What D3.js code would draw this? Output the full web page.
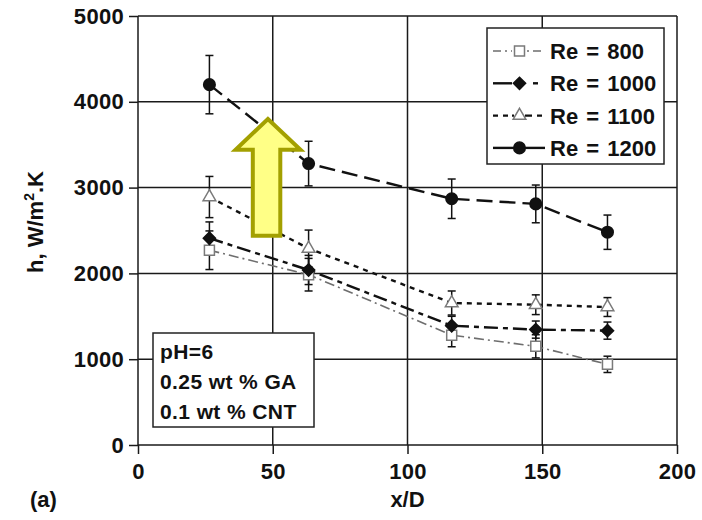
<!DOCTYPE html>
<html>
<head>
<meta charset="utf-8">
<script src="https://cdn.jsdelivr.net/npm/d3@7"></script>
<style>
  html, body { margin: 0; padding: 0; background: #fff; }
  svg { display: block; }
  text { font-family: "Liberation Sans", Arial, sans-serif; font-weight: bold; fill: #111; }
</style>
</head>
<body>
<svg id="chart" width="702" height="520"></svg>
<script>
// Axial position along the tube (x/D)
const xD = [26.5, 63.3, 116.4, 147.6, 174.2];

// Heat transfer coefficient h (W/m².K) and its error half-range for each Reynolds number
const re800  = [2270, 1985, 1280, 1150, 940];
const err800 = [225, 190, 135, 135, 95];
const re1000  = [2410, 2040, 1390, 1345, 1333];
const err1000 = [190, 170, 110, 100, 100];
const re1100  = [2890, 2290, 1655, 1635, 1608];
const err1100 = [240, 215, 140, 115, 110];
const re1200  = [4200, 3280, 2870, 2810, 2480];
const err1200 = [340, 260, 230, 220, 200];

const seriesNames = ["Re = 800", "Re = 1000", "Re = 1100", "Re = 1200"];
const xTicks = [0, 50, 100, 150, 200];
const yTicks = [0, 1000, 2000, 3000, 4000, 5000];
const noteLines = ["pH=6", "0.25 wt % GA", "0.1 wt % CNT"];

// Upward arrow outline, in data units (x/D, h)
const arrowX = [48.2, 60.3, 52.8, 52.8, 42.6, 42.6, 36.2];
const arrowY = [3800, 3440, 3440, 2440, 2440, 3440, 3440];

const svg = d3.select("#chart");
const W = 702, H = 520;
const m = { left: 138, right: 25, top: 16, bottom: 75 };

const x = d3.scaleLinear().domain([0, 200]).range([m.left, W - m.right]);
const y = d3.scaleLinear().domain([0, 5000]).range([H - m.bottom, m.top]);

// Grid
const grid = svg.append("g").attr("stroke", "#1a1a1a").attr("stroke-width", 1.5);
grid.selectAll(".gx").data([50, 100, 150]).join("line")
  .attr("x1", d => x(d)).attr("x2", d => x(d))
  .attr("y1", y(0)).attr("y2", y(5000));
grid.selectAll(".gy").data([1000, 2000, 3000, 4000]).join("line")
  .attr("x1", x(0)).attr("x2", x(200))
  .attr("y1", d => y(d)).attr("y2", d => y(d));
// frame top & right
grid.append("line").attr("x1", x(0)).attr("x2", x(200)).attr("y1", y(5000)).attr("y2", y(5000));
grid.append("line").attr("x1", x(200)).attr("x2", x(200)).attr("y1", y(0)).attr("y2", y(5000));

// Axes
const xAxis = svg.append("g").attr("transform", `translate(0,${y(0)})`)
  .call(d3.axisBottom(x).tickValues(xTicks).tickSize(9).tickPadding(9).tickFormat(d3.format("d")));
const yAxis = svg.append("g").attr("transform", `translate(${x(0)},0)`)
  .call(d3.axisLeft(y).tickValues(yTicks).tickSize(9).tickPadding(5).tickFormat(d3.format("d")));
[xAxis, yAxis].forEach(a => {
  a.selectAll("path, line").attr("stroke", "#1a1a1a").attr("stroke-width", 1.5);
  a.selectAll("text").attr("font-size", 22).attr("fill", "#111").attr("letter-spacing", 0.3)
    .style("font-family", '"Liberation Sans", Arial, sans-serif').style("font-weight", "bold");
});
yAxis.select(".domain").attr("d", `M0,${y(5000)}V${y(0)}`);
xAxis.select(".domain").attr("d", `M${x(0)},0H${x(200)}`);

// Series styles
const styles = [
  { vals: re800,  errs: err800,  stroke: "#6e6e6e", width: 1.6, dash: "10,4,2,4", sym: d3.symbolSquare,   size: 100, fill: "#fff", mstroke: "#7a7a7a" },
  { vals: re1000, errs: err1000, stroke: "#111",    width: 2.4, dash: "14,5,5,5", sym: d3.symbolDiamond2, size: 95,  fill: "#111", mstroke: "#111" },
  { vals: re1100, errs: err1100, stroke: "#111",    width: 2.4, dash: "5,5",      sym: d3.symbolTriangle, size: 70,  fill: "#fff", mstroke: "#7a7a7a" },
  { vals: re1200, errs: err1200, stroke: "#111",    width: 2.4, dash: "16,7",     sym: d3.symbolCircle,   size: 105, fill: "#111", mstroke: "#111" }
];

const line = d3.line().x(d => x(d[0])).y(d => y(d[1]));
styles.forEach(s => {
  const pts = xD.map((v, i) => [v, s.vals[i], s.errs[i]]);
  svg.append("path").datum(pts).attr("d", line)
    .attr("fill", "none").attr("stroke", s.stroke).attr("stroke-width", s.width)
    .attr("stroke-dasharray", s.dash);
});

// Error bars
styles.forEach(s => {
  const pts = xD.map((v, i) => [v, s.vals[i], s.errs[i]]);
  const g = svg.append("g").attr("stroke", "#111").attr("stroke-width", 1.5);
  g.selectAll(".v").data(pts).join("line")
    .attr("x1", d => x(d[0])).attr("x2", d => x(d[0]))
    .attr("y1", d => y(d[1] - d[2])).attr("y2", d => y(d[1] + d[2]));
  [-1, 1].forEach(sg => {
    g.selectAll(".c" + sg).data(pts).join("line")
      .attr("x1", d => x(d[0]) - 4).attr("x2", d => x(d[0]) + 4)
      .attr("y1", d => y(d[1] + sg * d[2])).attr("y2", d => y(d[1] + sg * d[2]));
  });
});

// Markers
styles.forEach(s => {
  const pts = xD.map((v, i) => [v, s.vals[i]]);
  svg.append("g").selectAll("path").data(pts).join("path")
    .attr("transform", d => `translate(${x(d[0])},${y(d[1])})`)
    .attr("d", d3.symbol().type(s.sym).size(s.size))
    .attr("fill", s.fill).attr("stroke", s.mstroke).attr("stroke-width", 1.5);
});

// Arrow
const arrowPts = arrowX.map((v, i) => [x(v), y(arrowY[i])]);
svg.append("path").attr("d", "M" + arrowPts.join("L") + "Z")
  .attr("fill", "#ffff86").attr("stroke", "#a3a000").attr("stroke-width", 4)
  .attr("stroke-linejoin", "miter");

// Legend
const lg = svg.append("g");
lg.append("rect").attr("x", 487).attr("y", 28).attr("width", 177).attr("height", 136)
  .attr("fill", "#fff").attr("stroke", "#222").attr("stroke-width", 1.5);
const legendSegs = [
  { l: "8,4,2,4", m: "0,3,2,10", r: "2,4,8,4", r0: 527 },
  { l: "none", m: "none", r: "5,100", r0: 533 },
  { l: "5,5", m: "2,11,2,2", r: "5,5", r0: 527 },
  { l: "none", m: "none", r: "none", r0: 527 }
];
styles.forEach((s, i) => {
  const cy = 51 + i * 32.3;
  const seg = legendSegs[i];
  const g = lg.append("g").attr("stroke", s.stroke).attr("stroke-width", s.width);
  g.append("line").attr("x1", 493).attr("x2", 512).attr("y1", cy).attr("y2", cy)
    .attr("stroke-dasharray", seg.l);
  g.append("line").attr("x1", seg.r0).attr("x2", 545).attr("y1", cy).attr("y2", cy)
    .attr("stroke-dasharray", seg.r);
  if (i !== 1) {
    g.append("line").attr("x1", 512).attr("x2", 527).attr("y1", cy).attr("y2", cy)
      .attr("stroke-dasharray", seg.m);
  }
  lg.append("path").attr("transform", `translate(519.5,${cy})`)
    .attr("d", d3.symbol().type(s.sym).size(s.size))
    .attr("fill", s.fill).attr("stroke", s.mstroke).attr("stroke-width", 1.5);
  lg.append("text").attr("x", 550).attr("y", cy + 8).attr("font-size", 22)
    .attr("word-spacing", 2).text(seriesNames[i]);
});

// Conditions box
const nb = svg.append("g");
nb.append("rect").attr("x", 153).attr("y", 333).attr("width", 161).attr("height", 94)
  .attr("fill", "#fff").attr("stroke", "#222").attr("stroke-width", 1.5);
nb.selectAll("text").data(noteLines).join("text")
  .attr("x", 160).attr("y", (d, i) => 359 + i * 30)
  .attr("font-size", 21).attr("letter-spacing", 0.4).text(d => d);

// Axis titles
svg.append("text").attr("x", x(100)).attr("y", 507).attr("text-anchor", "middle")
  .attr("font-size", 22).text("x/D");
svg.append("text").attr("x", 30).attr("y", 507).attr("font-size", 22).text("(a)");
const yt = svg.append("text").attr("transform", "translate(43,222) rotate(-90)")
  .attr("text-anchor", "middle").attr("font-size", 22);
yt.append("tspan").text("h, W/m");
yt.append("tspan").attr("font-size", 14).attr("dy", -9).text("2");
yt.append("tspan").attr("dy", 9).text(".K");
</script>
</body>
</html>
